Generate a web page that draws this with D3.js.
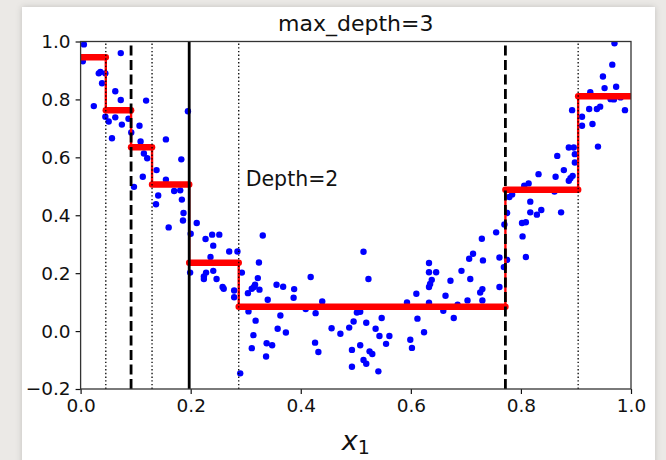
<!DOCTYPE html>
<html>
<head>
<meta charset="utf-8">
<script src="https://cdn.jsdelivr.net/npm/d3@7"></script>
<style>
  html, body { margin: 0; padding: 0; background: #ebe9e6; }
  svg { display: block; }
</style>
</head>
<body>
<div id="app"></div>
<script>
// scatter points
const xPts = [
  0.006, 0.004, 0.073, 0.033, 0.036, 0.045, 0.039, 0.063, 0.073, 0.024,
  0.119, 0.045, 0.051, 0.063, 0.075, 0.087, 0.107, 0.057, 0.092, 0.109,
  0.115, 0.121, 0.155, 0.195, 0.138, 0.113, 0.155, 0.183, 0.097, 0.141,
  0.137, 0.170, 0.181, 0.184, 0.187, 0.186, 0.160,
  0.211, 0.200, 0.199, 0.227, 0.239, 0.252, 0.241, 0.236, 0.224, 0.228,
  0.241, 0.224, 0.247, 0.270, 0.285, 0.258, 0.279, 0.279, 0.260,
  0.293, 0.290, 0.304, 0.311, 0.315, 0.317, 0.322, 0.325, 0.324, 0.331,
  0.305, 0.318, 0.314, 0.311, 0.338, 0.348, 0.337, 0.340, 0.356, 0.368,
  0.388, 0.387, 0.363, 0.358, 0.373, 0.418, 0.409, 0.427, 0.439, 0.426,
  0.432, 0.456, 0.472, 0.488, 0.493, 0.493, 0.496, 0.514, 0.523, 0.502,
  0.508, 0.519, 0.508, 0.525, 0.530, 0.514, 0.519, 0.541, 0.536, 0.543,
  0.547, 0.555, 0.561, 0.593, 0.599, 0.602, 0.610, 0.612, 0.624, 0.633,
  0.633, 0.646, 0.638, 0.635, 0.633, 0.633, 0.659, 0.663, 0.672, 0.678,
  0.685, 0.692, 0.703, 0.708, 0.706, 0.713, 0.731, 0.729, 0.726, 0.730,
  0.730, 0.755, 0.761, 0.761, 0.769, 0.770,
  0.775, 0.775, 0.779, 0.784, 0.802, 0.809, 0.803, 0.809, 0.817, 0.829,
  0.837, 0.817, 0.873, 0.814, 0.806, 0.832, 0.863, 0.861, 0.866, 0.878,
  0.887, 0.890, 0.894, 0.887, 0.896, 0.898, 0.898, 0.893,
  0.911, 0.911, 0.924, 0.926, 0.930, 0.938, 0.944, 0.940, 0.949, 0.952,
  0.966, 0.970, 0.973, 0.963, 0.969, 0.981, 0.989
];
const yPts = [
  0.990, 0.932, 0.960, 0.890, 0.895, 0.890, 0.856, 0.828, 0.798, 0.777,
  0.796, 0.740, 0.724, 0.738, 0.713, 0.733, 0.709, 0.666, 0.686, 0.655,
  0.613, 0.597, 0.662, 0.759, 0.556, 0.533, 0.523, 0.593, 0.498, 0.468,
  0.438, 0.484, 0.486, 0.454, 0.408, 0.382, 0.358,
  0.373, 0.336, 0.202, 0.318, 0.333, 0.333, 0.295, 0.256, 0.189, 0.202,
  0.208, 0.180, 0.180, 0.275, 0.275, 0.152, 0.140, 0.117, 0.146,
  0.202, -0.146, 0.131, 0.146, 0.152, 0.160, 0.183, 0.143, 0.237, 0.330,
  0.068, 0.036, -0.014, -0.059, -0.042, -0.049, -0.088, 0.108, 0.160, 0.153,
  0.145, 0.115, 0.054, 0.008, -0.005, 0.187, 0.076, 0.062, 0.102, -0.040,
  -0.072, 0.010, -0.009, 0.012, -0.065, -0.123, 0.033, 0.274, 0.180, 0.064,
  0.067, 0.029, -0.049, -0.070, -0.079, -0.100, -0.113, -0.139, 0.008, -0.017,
  0.045, -0.044, -0.017, 0.099, -0.030, -0.058, 0.129, 0.043, -0.004, 0.235,
  0.203, 0.203, 0.177, 0.163, 0.152, 0.098, 0.070, 0.122, 0.174, 0.045,
  0.091, 0.208, 0.106, 0.180, 0.250, 0.267, 0.244, 0.319, 0.133, 0.145,
  0.106, 0.341, 0.254, 0.152, 0.221, 0.368,
  0.408, 0.246, 0.463, 0.472, 0.373, 0.376, 0.327, 0.256, 0.410, 0.402,
  0.418, 0.447, 0.410, 0.510, 0.502, 0.542, 0.533, 0.482, 0.605, 0.556,
  0.519, 0.528, 0.536, 0.634, 0.634, 0.611, 0.582, 0.763,
  0.740, 0.709, 0.767, 0.825, 0.715, 0.767, 0.775, 0.637, 0.879, 0.839,
  0.920, 0.994, 0.844, 0.801, 0.800, 0.807, 0.763
];

// tree predictions: leaf edges and leaf values
const stepEdges = [0, 0.0458, 0.0917, 0.1298, 0.1973, 0.2873, 0.7718, 0.9040, 1];
const stepVals = [0.946, 0.763, 0.635, 0.506, 0.236, 0.084, 0.488, 0.811];

const solidSplits = [0.1973];
const dashedSplits = [0.0917, 0.7718];
const dottedSplits = [0.0458, 0.1298, 0.2873, 0.9040];

const xTicks = [0, 0.2, 0.4, 0.6, 0.8, 1.0];
const yTicks = [-0.2, 0, 0.2, 0.4, 0.6, 0.8, 1.0];

const w = 666;
const h = 460;
const pLeft = 80.6, pRight = 631, pTop = 41.5, pBottom = 389;
const font = "'DejaVu Sans', sans-serif";

var svg = d3.select("#app")
  .append("svg")
  .attr("width", w)
  .attr("height", h);

var defs = svg.append("defs");
defs.append("filter")
  .attr("id", "shadow")
  .attr("x", "-5%").attr("y", "-5%")
  .attr("width", "110%").attr("height", "110%")
  .append("feDropShadow")
  .attr("dx", 0).attr("dy", 0)
  .attr("stdDeviation", 3)
  .attr("flood-color", "#000")
  .attr("flood-opacity", 0.18);

defs.append("clipPath")
  .attr("id", "plotclip")
  .append("rect")
  .attr("x", pLeft).attr("y", pTop)
  .attr("width", pRight - pLeft).attr("height", pBottom - pTop);

// page background and white card
svg.append("rect")
  .attr("width", w).attr("height", h)
  .attr("fill", "#ebe9e6");

svg.append("rect")
  .attr("x", 22).attr("y", 7)
  .attr("width", 633).attr("height", 470)
  .attr("fill", "#fff")
  .attr("filter", "url(#shadow)");

var x = d3.scaleLinear().domain([0, 1]).range([pLeft, pRight]);
var y = d3.scaleLinear().domain([-0.2, 1]).range([pBottom, pTop]);

var plot = svg.append("g").attr("clip-path", "url(#plotclip)");

// blue points
plot.selectAll("circle")
  .data(xPts.map(function (d, i) { return [d, yPts[i]]; }))
  .enter()
  .append("circle")
  .attr("cx", function (d) { return x(d[0]); })
  .attr("cy", function (d) { return y(d[1]); })
  .attr("r", 3.2)
  .attr("fill", "#0000ff");

// red prediction line: thin steps plus thick plateaus
var stepData = stepVals.map(function (v, i) { return [stepEdges[i], v]; });
stepData.push([1, stepVals[stepVals.length - 1]]);

plot.append("path")
  .datum(stepData)
  .attr("fill", "none")
  .attr("stroke", "#ff0000")
  .attr("stroke-width", 2.4)
  .attr("d", d3.line()
    .x(function (d) { return x(d[0]); })
    .y(function (d) { return y(d[1]); })
    .curve(d3.curveStepAfter));

plot.selectAll("line.plateau")
  .data(stepVals)
  .enter()
  .append("line")
  .attr("class", "plateau")
  .attr("x1", function (d, i) { return x(stepEdges[i]); })
  .attr("x2", function (d, i) { return x(stepEdges[i + 1]); })
  .attr("y1", function (d) { return y(d); })
  .attr("y2", function (d) { return y(d); })
  .attr("stroke", "#ff0000")
  .attr("stroke-width", 6.5)
  .attr("stroke-linecap", "round");

// split lines
function splitLines(data, cls, width, dash) {
  plot.selectAll("line." + cls)
    .data(data)
    .enter()
    .append("line")
    .attr("class", cls)
    .attr("x1", function (d) { return x(d); })
    .attr("x2", function (d) { return x(d); })
    .attr("y1", y(-0.2))
    .attr("y2", y(1))
    .attr("stroke", "#000")
    .attr("stroke-width", width)
    .attr("stroke-dasharray", dash);
}
splitLines(solidSplits, "solid", 2.8, null);
splitLines(dashedSplits, "dashed", 2.8, "10,4.5");
splitLines(dottedSplits, "dotted", 1.3, "1.4,2.3");

// axes
var xAxis = svg.append("g")
  .attr("transform", "translate(0," + pBottom + ")")
  .call(d3.axisBottom(x).tickValues(xTicks).tickFormat(d3.format(".1f"))
    .tickSize(5).tickPadding(5).tickSizeOuter(0));

var yAxis = svg.append("g")
  .attr("transform", "translate(" + pLeft + ",0)")
  .call(d3.axisLeft(y).tickValues(yTicks).tickFormat(d3.format(".1f"))
    .tickSize(5).tickPadding(5).tickSizeOuter(0));

[xAxis, yAxis].forEach(function (g) {
  g.select(".domain").remove();
  g.selectAll(".tick line").attr("stroke", "#111").attr("stroke-width", 1.2);
  g.selectAll(".tick text")
    .attr("font-family", font)
    .attr("font-size", "18.5px")
    .attr("fill", "#111");
});

svg.append("rect")
  .attr("x", pLeft).attr("y", pTop)
  .attr("width", pRight - pLeft).attr("height", pBottom - pTop)
  .attr("fill", "none")
  .attr("stroke", "#333")
  .attr("stroke-width", 1.3);

// texts
svg.append("text")
  .attr("x", (pLeft + pRight) / 2)
  .attr("y", 31)
  .attr("text-anchor", "middle")
  .attr("font-family", font)
  .attr("font-size", "22px")
  .attr("fill", "#111")
  .text("max_depth=3");

svg.append("text")
  .attr("x", x(0.3))
  .attr("y", y(0.5))
  .attr("font-family", font)
  .attr("font-size", "20.5px")
  .attr("fill", "#111")
  .text("Depth=2");

var xl = svg.append("text")
  .attr("x", (pLeft + pRight) / 2)
  .attr("y", 450)
  .attr("text-anchor", "middle")
  .attr("font-family", font)
  .attr("font-style", "italic")
  .attr("font-size", "27px")
  .attr("fill", "#111");
xl.append("tspan").text("x");
xl.append("tspan")
  .attr("font-style", "normal")
  .attr("font-size", "19px")
  .attr("dy", 4)
  .text("1");
</script>
</body>
</html>
